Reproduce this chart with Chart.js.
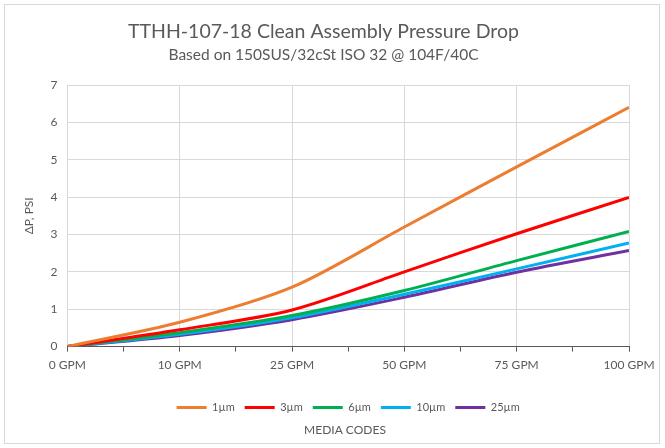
<!DOCTYPE html>
<html>
<head>
<meta charset="utf-8">
<script src="https://cdn.jsdelivr.net/npm/chart.js@4.4.1/dist/chart.umd.min.js"></script>
<style>
  html, body { margin: 0; padding: 0; background: #fff; }
  #wrap { width: 665px; height: 448px; position: relative; }
</style>
</head>
<body>
<div id="wrap"><canvas id="chart"></canvas></div>
<script>
// flow categories (x axis) and pressure drop per media code, PSI
const categories = ['0 GPM', '10 GPM', '25 GPM', '50 GPM', '75 GPM', '100 GPM'];
const mediaCodes = ['1\u00b5m', '3\u00b5m', '6\u00b5m', '10\u00b5m', '25\u00b5m'];
const dp1 = [0, 0.65, 1.59, 3.2, 4.81, 6.4];
const dp3 = [0, 0.45, 0.98, 2.0, 3.02, 3.99];
const dp6 = [0, 0.37, 0.83, 1.5, 2.3, 3.08];
const dp10 = [0, 0.33, 0.77, 1.4, 2.08, 2.77];
const dp25 = [0, 0.3, 0.72, 1.32, 1.99, 2.57];
const yTicks = [0, 1, 2, 3, 4, 5, 6, 7];

const colors = ['#ED7D31', '#FF0000', '#00B050', '#00B0F0', '#7030A0'];
const series = [dp1, dp3, dp6, dp10, dp25];
const textColor = '#595959';
const fontFamily = 'Lato, "Open Sans", sans-serif';

const toPoints = vals => vals.map((v, i) => ({ x: i, y: v }));

// frame + bottom axis title
const extras = {
    id: 'extras',
    afterDraw(chart) {
        const ctx = chart.ctx;
        ctx.save();
        ctx.strokeStyle = '#d9d9d9';
        ctx.lineWidth = 1;
        ctx.strokeRect(4.5, 4.5, 655, 439);
        ctx.fillStyle = textColor;
        ctx.font = '12px ' + fontFamily;
        ctx.textAlign = 'center';
        ctx.textBaseline = 'middle';
        ctx.fillText('MEDIA CODES', 345, 430);
        ctx.restore();
    }
};

new Chart(document.getElementById('chart'), {
    type: 'line',
    data: {
        datasets: mediaCodes.map((name, k) => ({
            label: name,
            data: toPoints(series[k]),
            borderColor: colors[k],
            backgroundColor: colors[k],
            borderWidth: 3,
            pointRadius: 0,
            tension: 0.3,
            fill: false
        }))
    },
    options: {
        responsive: true,
        maintainAspectRatio: false,
        animation: false,
        layout: { padding: { left: 18, right: 36, top: 10, bottom: 25 } },
        plugins: {
            title: {
                display: true,
                text: 'TTHH-107-18 Clean Assembly Pressure Drop',
                color: textColor,
                font: { family: fontFamily, size: 19.5, weight: 'normal' },
                padding: { top: 10, bottom: 2 }
            },
            subtitle: {
                display: true,
                text: 'Based on 150SUS/32cSt ISO 32 @ 104F/40C',
                color: textColor,
                font: { family: fontFamily, size: 15.5, weight: 'normal' },
                padding: { bottom: 21 }
            },
            legend: {
                position: 'bottom',
                fullSize: false,
                labels: {
                    color: textColor,
                    font: { family: fontFamily, size: 11 },
                    usePointStyle: true,
                    pointStyle: 'line',
                    pointStyleWidth: 30,
                    padding: 10
                }
            },
            tooltip: { enabled: false }
        },
        scales: {
            x: {
                type: 'linear',
                min: 0,
                max: categories.length - 1,
                afterBuildTicks: axis => {
                    const t = [];
                    for (let v = 0; v <= categories.length - 1; v += 0.5) t.push({ value: v });
                    axis.ticks = t;
                },
                afterFit: axis => { axis.height += 14; },
                ticks: {
                    autoSkip: false,
                    maxRotation: 0,
                    color: textColor,
                    font: { family: fontFamily, size: 12 },
                    padding: 6,
                    callback: v => Number.isInteger(v) ? categories[v] : ''
                },
                grid: {
                    color: c => (c.tick && Number.isInteger(c.tick.value)) ? '#d9d9d9' : 'rgba(0,0,0,0)',
                    tickColor: '#595959',
                    tickLength: 5
                },
                border: { display: true, color: '#595959', width: 1 }
            },
            y: {
                min: 0,
                max: 7,
                afterBuildTicks: axis => { axis.ticks = yTicks.map(v => ({ value: v })); },
                ticks: {
                    color: textColor,
                    font: { family: fontFamily, size: 12 },
                    padding: 10
                },
                grid: { color: '#d9d9d9', drawTicks: false },
                border: { display: false },
                title: {
                    display: true,
                    text: '\u0394P, PSI',
                    color: textColor,
                    font: { family: fontFamily, size: 12 },
                    padding: { bottom: 4 }
                }
            }
        }
    },
    plugins: [extras]
});
</script>
</body>
</html>
